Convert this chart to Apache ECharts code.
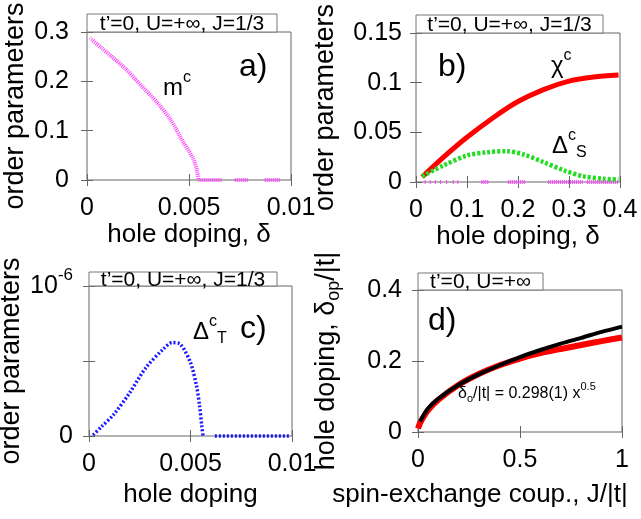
<!DOCTYPE html>
<html><head><meta charset="utf-8">
<script src="https://cdn.jsdelivr.net/npm/echarts@6/dist/echarts.min.js"></script>
<style>html,body{margin:0;padding:0;background:#fff}#c{width:641px;height:519px}</style>
</head><body><div id="c"></div>
<script>
// ---- panel a) m^c vs hole doping
const aDelta = [0.00015, 0.0007, 0.0013, 0.0019, 0.0024, 0.0029, 0.0034, 0.0041, 0.0047, 0.0052, 0.0054, 0.00546];
const aM     = [0.288, 0.268, 0.247, 0.225, 0.203, 0.181, 0.159, 0.122, 0.078, 0.044, 0.017, 0.0];
const aZeroStart = [0.00546, 0.00724, 0.0083, 0.00871];
const aZeroEnd   = [0.00659, 0.0079, 0.00833, 0.00945];
// ---- panel b) chi^c and Delta^c_S
const bDelta = [0.012, 0.054, 0.1, 0.152, 0.2, 0.25, 0.3, 0.348, 0.397];
const bChi   = [0.005, 0.025, 0.045, 0.065, 0.081, 0.093, 0.1015, 0.1057, 0.1077];
const bDeltaS = [0.012, 0.054, 0.1, 0.139, 0.178, 0.211, 0.25, 0.29, 0.329, 0.368, 0.397];
const bDS     = [0.0057, 0.0167, 0.0267, 0.030, 0.031, 0.0277, 0.020, 0.0117, 0.0057, 0.0033, 0.0025];
const bZeroStart = [0.017, 0.027, 0.037, 0.047, 0.059, 0.072, 0.081, 0.128, 0.180, 0.259, 0.335];
const bZeroEnd   = [0.019, 0.029, 0.039, 0.049, 0.061, 0.074, 0.083, 0.143, 0.214, 0.327, 0.396];
// ---- panel c) Delta^c_T (units of 1e-6)
const cDelta = [0.0002, 0.0006, 0.0012, 0.002, 0.0028, 0.00365, 0.0041, 0.0045, 0.0050, 0.0053, 0.00545, 0.00556, 0.00562];
const cT     = [0.007, 0.06, 0.141, 0.287, 0.455, 0.578, 0.623, 0.612, 0.489, 0.332, 0.197, 0.063, 0.0];
const cZeroStart = [0.0062];
const cZeroEnd   = [0.0099];
// ---- panel d) optimal doping vs J
const dJ     = [0.01, 0.05, 0.1, 0.2, 0.3, 0.4, 0.5, 0.6, 0.7, 0.8, 0.9, 1.0];
const dFit   = [0.03, 0.067, 0.094, 0.133, 0.163, 0.188, 0.211, 0.231, 0.249, 0.265, 0.282, 0.297];
const dJr    = [0.0, 0.01, 0.03, 0.05, 0.1, 0.2, 0.3, 0.4, 0.5, 0.6, 0.7, 0.8, 0.9, 1.0];
const dOpt   = [0.01, 0.025, 0.045, 0.062, 0.091, 0.133, 0.164, 0.188, 0.207, 0.222, 0.234, 0.245, 0.256, 0.266];
// tick ranges [min, max, interval]
const aXTicks = [0, 0.01, 0.005], aYTicks = [0, 0.3, 0.1];
const bXTicks = [0, 0.4, 0.1], bYTicks = [0, 0.15, 0.05];
const cXTicks = [0, 0.01, 0.005], cYTicks = [0, 1, 0.5];
const dXTicks = [0, 1, 0.5], dYTicks = [0, 0.4, 0.2];

const FONT = 'Liberation Sans, Arial, sans-serif';
const zip = (xs, ys) => xs.map((x, i) => [x, ys[i]]);
const segs = (s, e) => { const out = []; s.forEach((v, i) => { out.push([v, 0], [e[i], 0], [e[i], null]); }); return out; };
const fmtNum = v => String(Math.round(v * 1e6) / 1e6);

const richSty = (size) => {
  const s = Math.round(size * 0.68);
  return {
    b: {fontSize: size, fontFamily: FONT, fill: '#000', color: '#000'},
    sup: {fontSize: s, fontFamily: FONT, fill: '#000', color: '#000', padding: [0, 0, Math.round(size * 0.85), 0]},
    sub: {fontSize: s, fontFamily: FONT, fill: '#000', color: '#000', padding: [Math.round(size * 0.55), 0, 0, 0]}
  };
};

const grids = [
  {left: 87, top: 32, width: 204, height: 148},
  {left: 416, top: 33, width: 204, height: 149},
  {left: 89, top: 286, width: 203, height: 150},
  {left: 418, top: 290, width: 204, height: 142}
].map(g => Object.assign(g, {show: true, borderColor: '#666', borderWidth: 1, backgroundColor: 'transparent',
  containLabel: false, outerBoundsMode: 'none'}));

const xAxis = [], yAxis = [];
function addAxes(gi, xr, yr, xname, yname, xGap, yGap, yMargin, yfmt, xNamePad) {
  const tick = {show: true, inside: true, length: 6, lineStyle: {color: '#666', width: 1}};
  const lbl = {color: '#000', fontSize: 25, fontFamily: FONT};
  xAxis.push({type: 'value', gridIndex: gi, min: xr[0], max: xr[1], interval: xr[2], position: 'bottom',
    axisLine: {show: false}, axisTick: tick, splitLine: {show: false},
    axisLabel: Object.assign({margin: 16, formatter: fmtNum, showMinLabel: true, showMaxLabel: true}, lbl),
    name: xname, nameLocation: 'middle', nameGap: xGap,
    nameTextStyle: {color: '#000', fontSize: 26, fontFamily: FONT, padding: xNamePad || 0}});
  xAxis.push({type: 'value', gridIndex: gi, min: xr[0], max: xr[1], interval: xr[2], position: 'top',
    axisLine: {show: false}, axisTick: tick, splitLine: {show: false}, axisLabel: {show: false}});
  yAxis.push({type: 'value', gridIndex: gi, min: yr[0], max: yr[1], interval: yr[2], position: 'left',
    axisLine: {show: false}, axisTick: tick, splitLine: {show: false},
    axisLabel: Object.assign({margin: yMargin, formatter: yfmt || fmtNum, showMinLabel: true, showMaxLabel: true,
      rich: richSty(25)}, lbl),
    name: yname, nameLocation: 'middle', nameGap: yGap,
    nameTextStyle: {color: '#000', fontSize: 27, fontFamily: FONT, rich: richSty(27)}});
  yAxis.push({type: 'value', gridIndex: gi, min: yr[0], max: yr[1], interval: yr[2], position: 'right',
    axisLine: {show: false}, axisTick: tick, splitLine: {show: false}, axisLabel: {show: false}});
}
addAxes(0, aXTicks, aYTicks, 'hole doping, δ', 'order parameters', 42, 58, 18);
addAxes(1, bXTicks, bYTicks, 'hole doping, δ', 'order parameters', 41, 77, 14);
addAxes(2, cXTicks, cYTicks, 'hole doping', 'order parameters', 46, 64, 16,
  v => v === 0 ? '{b|0}' : (v > 0.99 ? '{b|10}{sup|-6}' : ''));
addAxes(3, dXTicks, dYTicks, 'spin-exchange coup., J/|t|', '{b|hole doping, δ}{sub|op}{b|/|t|}', 50, 75, 16,
  null, [0, 80, 0, 0]);

const ax = gi => ({xAxisIndex: 2 * gi, yAxisIndex: 2 * gi});
const series = [
  Object.assign({type: 'line', data: zip(aDelta, aM), smooth: 0.3, showSymbol: false,
    lineStyle: {color: '#ff40ff', width: 4, type: [1, 1]}}, ax(0)),
  Object.assign({type: 'line', data: segs(aZeroStart, aZeroEnd), showSymbol: false, connectNulls: false,
    lineStyle: {color: '#ff40ff', width: 4, type: [1, 1]}}, ax(0)),
  Object.assign({type: 'line', data: segs(bZeroStart, bZeroEnd), showSymbol: false, connectNulls: false,
    lineStyle: {color: '#ff40ff', width: 4, type: [1, 1]}}, ax(1)),
  Object.assign({type: 'line', data: zip(bDelta, bChi), smooth: 0.3, showSymbol: false,
    lineStyle: {color: '#ff0000', width: 5}}, ax(1)),
  Object.assign({type: 'line', data: zip(bDeltaS, bDS), smooth: 0.3, showSymbol: false,
    lineStyle: {color: '#22dd22', width: 4.5, type: [3, 2]}}, ax(1)),
  Object.assign({type: 'line', data: zip(cDelta, cT), smooth: 0.3, showSymbol: false,
    lineStyle: {color: '#1a1aff', width: 3.5, type: [2, 2]}}, ax(2)),
  Object.assign({type: 'line', data: segs(cZeroStart, cZeroEnd), showSymbol: false, connectNulls: false,
    lineStyle: {color: '#1a1aff', width: 3.5, type: [2, 2]}}, ax(2)),
  Object.assign({type: 'line', data: zip(dJr, dOpt), smooth: 0.3, showSymbol: false,
    lineStyle: {color: '#ff0000', width: 6}}, ax(3)),
  Object.assign({type: 'line', data: zip(dJ, dFit), smooth: 0.3, showSymbol: false,
    lineStyle: {color: '#000000', width: 4}}, ax(3))
].map(s => Object.assign(s, {silent: true, animation: false, clip: false}));

function box(x, y, w, h, txt) {
  return [{type: 'rect', shape: {x: x, y: y, width: w, height: h}, style: {fill: '#fff', stroke: '#777', lineWidth: 1}, z: 10},
    {type: 'text', x: x + w / 2, y: y + h / 2 + 1, style: {text: txt, fill: '#000', font: '21px ' + FONT, textAlign: 'center', textVerticalAlign: 'middle'}, z: 11}];
}
function rtext(x, y, txt, size) {
  return {type: 'text', x: x, y: y, z: 12, style: {text: txt, rich: richSty(size), fill: '#000', font: size + 'px ' + FONT, textVerticalAlign: 'middle', textAlign: 'left'}};
}
const graphic = [].concat(
  box(87, 14, 190, 18, "t’=0, U=+∞, J=1/3"),
  box(416, 15, 187, 18, "t’=0, U=+∞, J=1/3"),
  box(89, 272, 188, 14, "t’=0, U=+∞, J=1/3"),
  box(418, 273, 125, 17, "t’=0, U=+∞"),
  [rtext(239, 67, '{b|a)}', 32),
   rtext(163, 88, '{b|m}{sup|c}', 24),
   rtext(438, 67, '{b|b)}', 32),
   rtext(551, 66, '{b|χ}{sup|c}', 24),
   rtext(552, 146, '{b|Δ}{sup|c}{sub|S}', 24),
   rtext(240, 329, '{b|c)}', 32),
   rtext(193, 332, '{b|Δ}{sup|c}{sub|T}', 24),
   rtext(428, 321, '{b|d)}', 32),
   rtext(458, 394, '{b|δ}{sub|o}{b|/|t| = 0.298(1) x}{sup|0.5}', 16)]
);

const chart = echarts.init(document.getElementById('c'), null, {renderer: 'canvas'});
chart.setOption({animation: false, grid: grids, xAxis: xAxis, yAxis: yAxis, series: series, graphic: graphic});
</script></body></html>
